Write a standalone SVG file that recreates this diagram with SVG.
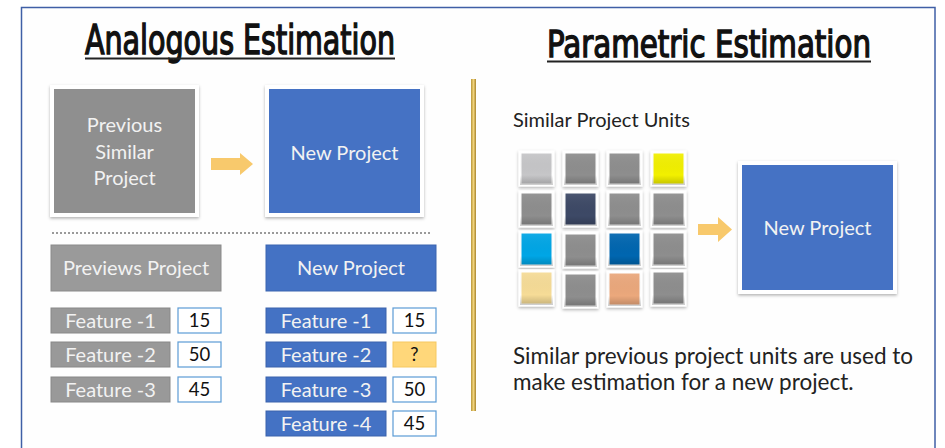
<svg xmlns="http://www.w3.org/2000/svg" width="945" height="448" viewBox="0 0 945 448">
<defs>
<filter id="sh" x="-10%" y="-10%" width="120%" height="125%">
<feDropShadow dx="0" dy="1.5" stdDeviation="1.5" flood-color="#000" flood-opacity="0.3"/>
</filter>
<linearGradient id="gold" x1="0" y1="0" x2="1" y2="0">
<stop offset="0" stop-color="#b8963a"/>
<stop offset="0.5" stop-color="#f0d27a"/>
<stop offset="1" stop-color="#a8852f"/>
</linearGradient>
<linearGradient id="bevel" x1="0" y1="0" x2="0" y2="1">
<stop offset="0" stop-color="#fff" stop-opacity="0.08"/>
<stop offset="0.7" stop-color="#000" stop-opacity="0"/>
<stop offset="1" stop-color="#000" stop-opacity="0.2"/>
</linearGradient>
<style>
.title{font-family:"DejaVu Sans Condensed","Liberation Sans",sans-serif;font-weight:normal;fill:#111;stroke:#111;stroke-width:1.4}
.lbl{font-family:Lato,"Noto Sans",sans-serif;fill:#f2f2f2;text-anchor:middle}
.big{stroke:#fff;stroke-width:4}
.gray{fill:#8f8f8f}
.blue{fill:#4472c4}
.hdrg{fill:#9a9a9a;stroke:#8a8a8a;stroke-width:1}
.hdrb{fill:#4472c4;stroke:#3a64b0;stroke-width:1}
.fg{fill:#999;stroke:#888;stroke-width:1}
.fb{fill:#4472c4;stroke:#3a62ac;stroke-width:1}
.val{fill:#fff;stroke:#5b9bd5;stroke-width:1.2}
.vt{font-family:Lato,"Noto Sans",sans-serif;font-size:18.5px;fill:#111;text-anchor:middle}
.ft{font-family:Lato,"Noto Sans",sans-serif;font-size:20px;fill:#f2f2f2;text-anchor:middle}
.body{font-family:Lato,"Noto Sans",sans-serif;fill:#222}
.arrow{fill:#f8c96c}
.tile{stroke:#fff;stroke-width:3}
.tg{fill:#8e8e8e}
.bv{fill:url(#bevel)}
</style>
</defs>
<rect x="0" y="0" width="945" height="448" fill="#fff"/>
<rect x="21.5" y="7.5" width="913.5" height="450" fill="#fefefe" stroke="#3f5fa6" stroke-width="1.5"/>

<!-- Titles -->
<g id="title-analogous">
<text class="title" x="85" y="54" font-size="40" textLength="310" lengthAdjust="spacingAndGlyphs">Analogous Estimation</text>
<rect x="85" y="57.5" width="310" height="2" fill="#222"/>
</g>
<g id="title-parametric">
<text class="title" x="547" y="57" font-size="38" textLength="324" lengthAdjust="spacingAndGlyphs">Parametric Estimation</text>
<rect x="547" y="60.5" width="324" height="2" fill="#222"/>
</g>

<!-- divider -->
<rect id="divider" x="471" y="79" width="5" height="332" fill="url(#gold)"/>

<!-- Analogous top -->
<g id="prev-similar">
<rect class="big gray" x="52" y="87" width="145" height="128" filter="url(#sh)"/>
<text class="lbl" font-size="20"><tspan x="124.5" y="132">Previous</tspan><tspan x="124.5" y="159">Similar</tspan><tspan x="124.5" y="185">Project</tspan></text>
</g>
<g id="new-project-a">
<rect class="big blue" x="267" y="87" width="155" height="128" filter="url(#sh)"/>
<text class="lbl" font-size="20" x="344.5" y="160">New Project</text>
</g>

<line x1="52" y1="233" x2="430" y2="233" stroke="#9a9a9a" stroke-width="2" stroke-dasharray="2 2"/>

<!-- Analogous bottom -->
<g id="previews-project">
<rect class="hdrg" x="51" y="245" width="170" height="46"/>
<text class="lbl" font-size="20" x="136" y="275">Previews Project</text>
</g>
<g id="new-project-b">
<rect class="hdrb" x="266" y="245" width="170" height="46"/>
<text class="lbl" font-size="20" x="351" y="275">New Project</text>
</g>

<g id="prev-f1"><rect class="fg" x="51" y="308" width="119" height="25"/><text class="ft" x="110.5" y="328">Feature -1</text></g>
<g id="prev-v1"><rect class="val" x="178" y="308" width="43" height="25"/><text class="vt" x="199.5" y="327">15</text></g>
<g id="prev-f2"><rect class="fg" x="51" y="342" width="119" height="25"/><text class="ft" x="110.5" y="362">Feature -2</text></g>
<g id="prev-v2"><rect class="val" x="178" y="342" width="43" height="25"/><text class="vt" x="199.5" y="361">50</text></g>
<g id="prev-f3"><rect class="fg" x="51" y="377" width="119" height="25"/><text class="ft" x="110.5" y="397">Feature -3</text></g>
<g id="prev-v3"><rect class="val" x="178" y="377" width="43" height="25"/><text class="vt" x="199.5" y="396">45</text></g>

<g id="new-f1"><rect class="fb" x="266" y="308" width="120" height="25"/><text class="ft" x="326" y="328">Feature -1</text></g>
<g id="new-v1"><rect class="val" x="393" y="308" width="43" height="25"/><text class="vt" x="414.5" y="327">15</text></g>
<g id="new-f2"><rect class="fb" x="266" y="342" width="120" height="25"/><text class="ft" x="326" y="362">Feature -2</text></g>
<g id="new-v2"><rect x="393" y="342" width="43" height="25" fill="#ffd77a" stroke="#f5c860" stroke-width="1"/><text class="vt" x="414.5" y="361">?</text></g>
<g id="new-f3"><rect class="fb" x="266" y="377" width="120" height="25"/><text class="ft" x="326" y="397">Feature -3</text></g>
<g id="new-v3"><rect class="val" x="393" y="377" width="43" height="25"/><text class="vt" x="414.5" y="396">50</text></g>
<g id="new-f4"><rect class="fb" x="266" y="411" width="120" height="25"/><text class="ft" x="326" y="431">Feature -4</text></g>
<g id="new-v4"><rect class="val" x="393" y="411" width="43" height="25"/><text class="vt" x="414.5" y="430">45</text></g>

<!-- Parametric -->
<text class="body" x="513" y="127" font-size="20">Similar Project Units</text>

<g id="units">
<g filter="url(#sh)">
<rect class="tile" x="520" y="152" width="33" height="33" fill="#c6c6c8"/>
<rect class="tile tg" x="564" y="152" width="33" height="33"/>
<rect class="tile tg" x="608" y="152" width="33" height="33"/>
<rect class="tile" x="652" y="152" width="33" height="33" fill="#f2f000"/>
<rect class="tile tg" x="520" y="192" width="33" height="34"/>
<rect class="tile" x="564" y="192" width="33" height="34" fill="#3c4a66"/>
<rect class="tile tg" x="608" y="192" width="33" height="34"/>
<rect class="tile tg" x="652" y="192" width="33" height="34"/>
<rect class="tile" x="520" y="232" width="33" height="34" fill="#05a6e6"/>
<rect class="tile tg" x="564" y="233" width="33" height="34"/>
<rect class="tile" x="608" y="232" width="33" height="34" fill="#0066b0"/>
<rect class="tile tg" x="652" y="232" width="33" height="34"/>
<rect class="tile" x="520" y="271" width="33" height="34" fill="#f6dc97"/>
<rect class="tile tg" x="564" y="273" width="33" height="34"/>
<rect class="tile" x="608" y="272" width="33" height="34" fill="#eba87c"/>
<rect class="tile tg" x="652" y="271" width="33" height="34"/>
</g>
<rect class="bv" x="520" y="152" width="33" height="33"/>
<rect class="bv" x="564" y="152" width="33" height="33"/>
<rect class="bv" x="608" y="152" width="33" height="33"/>
<rect class="bv" x="652" y="152" width="33" height="33"/>
<rect class="bv" x="520" y="192" width="33" height="34"/>
<rect class="bv" x="564" y="192" width="33" height="34"/>
<rect class="bv" x="608" y="192" width="33" height="34"/>
<rect class="bv" x="652" y="192" width="33" height="34"/>
<rect class="bv" x="520" y="232" width="33" height="34"/>
<rect class="bv" x="564" y="233" width="33" height="34"/>
<rect class="bv" x="608" y="232" width="33" height="34"/>
<rect class="bv" x="652" y="232" width="33" height="34"/>
<rect class="bv" x="520" y="271" width="33" height="34"/>
<rect class="bv" x="564" y="273" width="33" height="34"/>
<rect class="bv" x="608" y="272" width="33" height="34"/>
<rect class="bv" x="652" y="271" width="33" height="34"/>
</g>

<g id="new-project-p">
<rect class="big blue" x="740" y="163" width="155" height="129" filter="url(#sh)"/>
<text class="lbl" font-size="20" x="817.5" y="235">New Project</text>
</g>

<text class="body" font-size="22.5"><tspan x="513" y="364">Similar previous project units are used to</tspan><tspan x="513" y="390">make estimation for a new project.</tspan></text>

<!-- connectors -->
<g id="connectors">
<polygon class="arrow" points="211,158 240,158 240,153 253,164 240,175 240,170 211,170"/>
<polygon class="arrow" points="698,224 718,224 718,217 732,229.5 718,242 718,235 698,235"/>
</g>
</svg>
